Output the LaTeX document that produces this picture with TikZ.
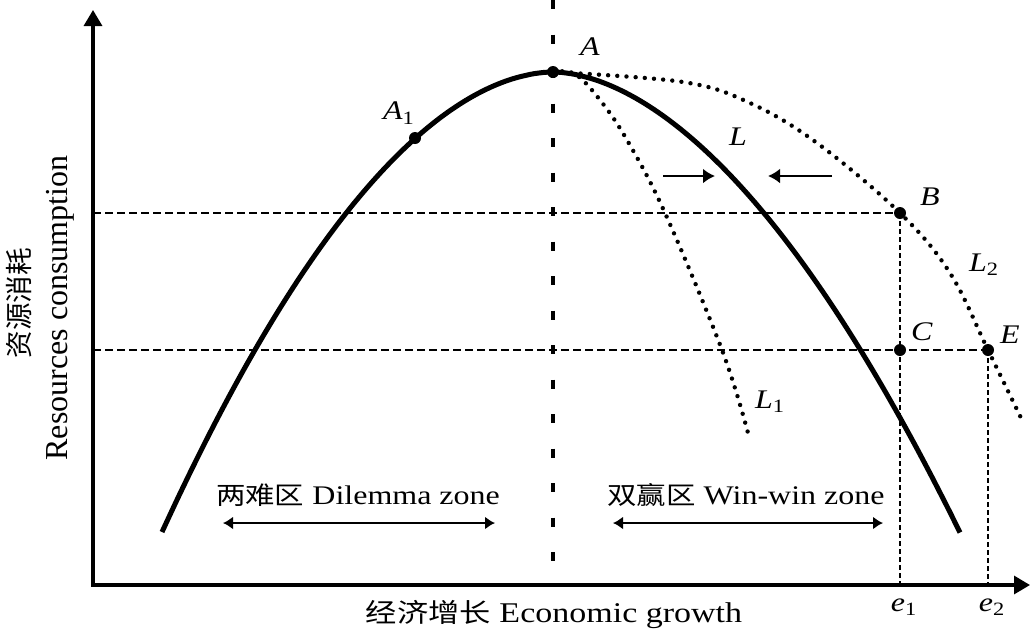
\documentclass[tikz,border=0pt]{standalone}
\usepackage{fontspec}
\setmainfont{Liberation Serif}
\newfontfamily\cjk{Noto Sans CJK SC}[Scale=0.92]
\usetikzlibrary{arrows.meta}
\newcommand\sq[1]{\scalebox{1}[0.84]{#1}}
\tikzset{
  axisline/.style={line width=1.6pt,{Triangle[length=8pt,width=9pt]}-{Triangle[length=8pt,width=9pt]}},
  maincurve/.style={line width=2.5pt},
  guide/.style={line width=1.1pt,dash pattern=on 4pt off 2pt},
  vguide/.style={line width=1.1pt,dash pattern=on 2.5pt off 1.5pt},
  centreline/.style={line width=1.8pt,dash pattern=on 4.5pt off 12.75pt},
  dotcurve/.style={line width=2.2pt,line cap=round,dash pattern=on 0pt off 4.6pt},
  dotpt/.style={circle,fill,inner sep=0pt,minimum size=6pt},
  lbl/.style={font=\fontsize{16}{18}\selectfont,inner sep=0pt},
  txt/.style={font=\fontsize{16}{18}\selectfont,inner sep=0pt},
  zonearrow/.style={line width=1.1pt,{Latex[length=5pt,width=6.5pt]}-{Latex[length=5pt,width=6.5pt]}},
  shiftarrow/.style={line width=1.4pt,-{Latex[length=6pt,width=7.5pt]}}
}
\begin{document}
\begin{tikzpicture}[x=0.5pt,y=-0.5pt]
\useasboundingbox (0,0) rectangle (1033,639);
% axes
\coordinate (O) at (93,585);
\coordinate (ytip) at (93,10);
\coordinate (xtip) at (1030,585);
\draw[axisline] (ytip) -- (O) -- (xtip);
% centre dashed line
\coordinate (ctop) at (553,0);
\coordinate (cbot) at (553,585);
\draw[centreline] (ctop) -- (cbot);
% points
\node[dotpt] (A) at (553,72) {};
\node[dotpt] (A1) at (415,138) {};
\node[dotpt] (B) at (900,213) {};
\node[dotpt] (C) at (900,350) {};
\node[dotpt] (E) at (988,350) {};
% guides
\draw[guide] (O |- B) -- (B.center);
\draw[guide] (O |- E) -- (E.center);
\draw[vguide] (B.center) -- (B |- O);
\draw[vguide] (E.center) -- (E |- O);
% main curve L
\draw[maincurve] plot[domain=-391:-0.5,samples=90] ({553+\x},{72+140*pow(-\x/206,1.857)})
  -- plot[domain=0.5:407,samples=90] ({553+\x},{72+140*pow(\x/210,1.8)});
% dotted curves
\draw[dotcurve] plot[smooth,tension=0.6] coordinates {(A.center) (575,74) (600,100) (627,140) (665,213) (722,350) (748,433)};
\draw[dotcurve] plot[smooth,tension=0.6] coordinates {(A.center) (683,82) (750,103) (817,143) (B.center) (950,273) (E.center) (1022,420)};
% shift arrows
\coordinate (r1) at (663,176);
\coordinate (r2) at (715,176);
\coordinate (l1) at (832,176);
\coordinate (l2) at (768,176);
\draw[shiftarrow] (r1) -- (r2);
\draw[shiftarrow] (l1) -- (l2);
% labels
\node[lbl] (tA) at (590,47) {\sq{\textit{A}}};
\node[lbl] (tA1) at (399,113) {\sq{\textit{A}\textsubscript{1}}};
\node[lbl] (tL) at (738,137) {\sq{\textit{L}}};
\node[lbl] (tL1) at (770,402) {\sq{\textit{L}\textsubscript{1}}};
\node[lbl] (tL2) at (984,265) {\sq{\textit{L}\textsubscript{2}}};
\node[lbl] (tB) at (930,197) {\sq{\textit{B}}};
\node[lbl] (tC) at (922,332) {\sq{\textit{C}}};
\node[lbl] (tE) at (1010,335) {\sq{\textit{E}}};
\node[lbl] (te1) at (904,607) {\sq{\textit{e}\textsubscript{1}}};
\node[lbl] (te2) at (992,607) {\sq{\textit{e}\textsubscript{2}}};
% zones
\node[txt] (dz) at (358,495) {\sq{{\cjk 两难区} Dilemma zone}};
\node[txt] (wz) at (746,495) {\sq{{\cjk 双赢区} Win-win zone}};
\coordinate (dza) at (223,523);
\coordinate (dzb) at (495,523);
\coordinate (wza) at (613,523);
\coordinate (wzb) at (883,523);
\draw[zonearrow] (dza) -- (dzb);
\draw[zonearrow] (wza) -- (wzb);
% axis titles
\node[inner sep=0pt,font=\fontsize{17}{19}\selectfont] (xl) at (554,614) {\sq{{\cjk 经济增长} Economic growth}};
\node[inner sep=0pt,rotate=90,font=\fontsize{15}{17}\selectfont] (ycn) at (19,303) {\cjk 资源消耗};
\node[inner sep=0pt,rotate=90,font=\fontsize{16}{18}\selectfont] (yen) at (60,308) {Resources consumption};
\end{tikzpicture}
\end{document}
